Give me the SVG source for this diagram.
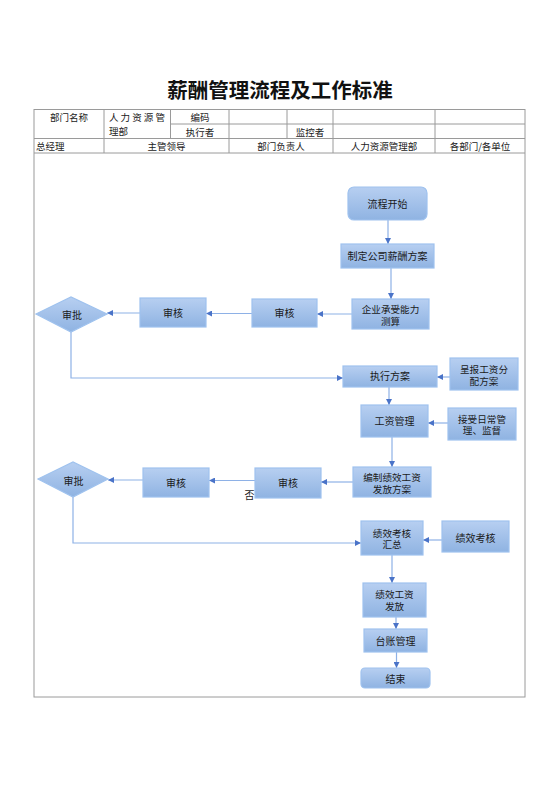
<svg xmlns="http://www.w3.org/2000/svg" width="560" height="792" viewBox="0 0 560 792">
<defs>
<linearGradient id="g" x1="0" y1="0" x2="0" y2="1">
<stop offset="0" stop-color="#b7cff1"/>
<stop offset="1" stop-color="#8fb3e2"/>
</linearGradient>
<marker id="ah" markerWidth="6" markerHeight="6" refX="6" refY="3" orient="auto" markerUnits="userSpaceOnUse">
<path d="M0,0 L6,3 L0,6 Z" fill="#4a73c8"/>
</marker>
<style>
.t{font-family:"Noto Sans CJK SC","Liberation Sans",sans-serif;font-size:9.5px;fill:#1a1a1a}
.c{text-anchor:middle}
.n{fill:url(#g);stroke:#9fc2ee;stroke-width:1.2}
.nt{font-family:"Noto Sans CJK SC","Liberation Sans",sans-serif;font-size:10px;fill:#1a1a1a;text-anchor:middle}
.nt2{font-family:"Noto Sans CJK SC","Liberation Sans",sans-serif;font-size:9.6px;fill:#1a1a1a;text-anchor:middle}
.tl{stroke:#9a9a9a;stroke-width:1;fill:none}
.cn{stroke:#8eb1e6;stroke-width:1.2;fill:none;marker-end:url(#ah)}
</style>
</defs>
<rect width="560" height="792" fill="#ffffff"/>
<text x="280" y="98" font-family="'Noto Sans CJK SC','Liberation Sans',sans-serif" font-size="20.5" font-weight="bold" fill="#111" text-anchor="middle">薪酬管理流程及工作标准</text>
<g id="table">
<rect class="tl" x="34" y="109.5" width="491" height="587.5" stroke="#8a8a8a"/>
<line class="tl" x1="170" y1="124" x2="525" y2="124"/>
<line class="tl" x1="34" y1="138.5" x2="525" y2="138.5"/>
<line class="tl" x1="34" y1="153" x2="525" y2="153"/>
<line class="tl" x1="104" y1="109.5" x2="104" y2="153"/>
<line class="tl" x1="170.5" y1="109.5" x2="170.5" y2="138.5"/>
<line class="tl" x1="229" y1="109.5" x2="229" y2="153"/>
<line class="tl" x1="287" y1="109.5" x2="287" y2="138.5"/>
<line class="tl" x1="333" y1="109.5" x2="333" y2="153"/>
<line class="tl" x1="435" y1="109.5" x2="435" y2="153"/>
<text class="t c" x="69" y="121">部门名称</text>
<text class="t" x="109" y="121" textLength="56" lengthAdjust="spacing">人力资源管</text>
<text class="t" x="109" y="135">理部</text>
<text class="t c" x="200" y="121">编码</text>
<text class="t c" x="200" y="135.5">执行者</text>
<text class="t c" x="310" y="135.5">监控者</text>
<text class="t" x="36" y="150">总经理</text>
<text class="t c" x="166.5" y="150">主管领导</text>
<text class="t c" x="281" y="150">部门负责人</text>
<text class="t c" x="384" y="150">人力资源管理部</text>
<text class="t c" x="480" y="150">各部门/各单位</text>
</g>
<g id="connectors">
<path class="cn" d="M388,220 V244"/>
<path class="cn" d="M391,268 V299"/>
<path class="cn" d="M352,314 H317"/>
<path class="cn" d="M252,313.5 H206"/>
<path class="cn" d="M140,313 H107"/>
<path class="cn" d="M71,332 V378 H343"/>
<path class="cn" d="M450,377 H437"/>
<path class="cn" d="M389,387 V405"/>
<path class="cn" d="M448,423 H428"/>
<path class="cn" d="M392,437 V467"/>
<path class="cn" d="M353,482 H321"/>
<path class="cn" d="M255,480.5 H209"/>
<path class="cn" d="M143,480 H108"/>
<path class="cn" d="M73,497 V543 H361"/>
<path class="cn" d="M442,540 H423"/>
<path class="cn" d="M392,555 V583"/>
<path class="cn" d="M396,617 V629"/>
<path class="cn" d="M396.5,652 V668"/>
</g>
<g id="n-start"><rect class="n" x="348" y="187" width="79" height="33" rx="6"/><text class="nt" x="387.5" y="207.5">流程开始</text></g>
<g id="n-plan"><rect class="n" x="341" y="244" width="93" height="24"/><text class="nt" x="387.5" y="260">制定公司薪酬方案</text></g>
<g id="n-capacity"><rect class="n" x="352" y="299" width="77" height="30"/><text class="nt2" x="390.5" y="313">企业承受能力</text><text class="nt2" x="390.5" y="324.5">测算</text></g>
<g id="n-review1"><rect class="n" x="252" y="299" width="65" height="28"/><text class="nt" x="284.5" y="317">审核</text></g>
<g id="n-review2"><rect class="n" x="140" y="298" width="66" height="29"/><text class="nt" x="173" y="316.5">审核</text></g>
<g id="n-approve1"><polygon class="n" points="36,314 71,297 107,314 71,332"/><text class="nt" x="72" y="318.5">审批</text></g>
<g id="n-exec"><rect class="n" x="343" y="366" width="94" height="21"/><text class="nt" x="390" y="380">执行方案</text></g>
<g id="n-report"><rect class="n" x="450" y="358" width="68" height="32"/><text class="nt2" x="484" y="373">呈报工资分</text><text class="nt2" x="484" y="384.5">配方案</text></g>
<g id="n-wage"><rect class="n" x="361" y="405" width="67" height="32"/><text class="nt" x="394.5" y="425">工资管理</text></g>
<g id="n-supervise"><rect class="n" x="448" y="408" width="68" height="32"/><text class="nt2" x="482" y="422.5">接受日常管</text><text class="nt2" x="482" y="434">理、监督</text></g>
<g id="n-perfplan"><rect class="n" x="353" y="467" width="78" height="30"/><text class="nt2" x="392" y="481">编制绩效工资</text><text class="nt2" x="392" y="492.5">发放方案</text></g>
<g id="n-review3"><rect class="n" x="255" y="468" width="66" height="30"/><text class="nt" x="288" y="487">审核</text></g>
<g id="n-review4"><rect class="n" x="143" y="468" width="66" height="29"/><text class="nt" x="176" y="487">审核</text></g>
<g id="n-approve2"><polygon class="n" points="38,479 73,462 108,479 73,497"/><text class="nt" x="73.5" y="484.5">审批</text></g>
<text x="249.5" y="499" font-family="'Noto Sans CJK SC','Liberation Sans',sans-serif" font-size="10" fill="#1a1a1a" text-anchor="middle">否</text>
<g id="n-summary"><rect class="n" x="361" y="521" width="62" height="34"/><text class="nt2" x="392" y="536.5">绩效考核</text><text class="nt2" x="392" y="548">汇总</text></g>
<g id="n-assess"><rect class="n" x="442" y="521" width="67" height="31"/><text class="nt" x="475.5" y="542">绩效考核</text></g>
<g id="n-pay"><rect class="n" x="363" y="583" width="63" height="34"/><text class="nt2" x="394.5" y="598">绩效工资</text><text class="nt2" x="394.5" y="609.5">发放</text></g>
<g id="n-ledger"><rect class="n" x="364" y="629" width="63" height="23"/><text class="nt" x="395.5" y="645">台账管理</text></g>
<g id="n-end"><rect class="n" x="361" y="668" width="69" height="20" rx="4"/><text class="nt" x="395.5" y="682.5">结束</text></g>
</svg>
